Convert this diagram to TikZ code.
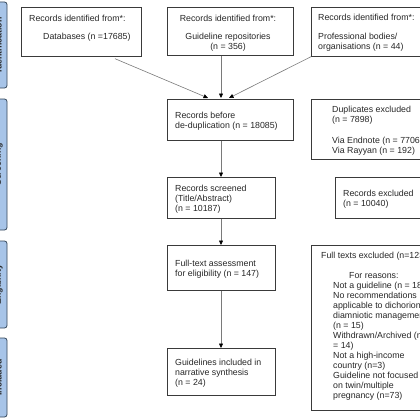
\documentclass[tikz,border=0pt]{standalone}
\usepackage{fontspec}
\setmainfont{Liberation Sans}
\usetikzlibrary{arrows.meta,calc}
\definecolor{boxline}{HTML}{3A3A3A}
\definecolor{arrline}{HTML}{7A7A7A}
\definecolor{sidefill}{HTML}{A7C4E8}
\definecolor{sideline}{HTML}{34465A}
\begin{document}
\begin{tikzpicture}[x=1pt,y=-1pt,
  box/.style={draw=boxline, line width=0.7pt, inner sep=0pt, anchor=north west},
  txt/.style={inner sep=0pt, anchor=north west, align=left, font=\fontsize{8.8}{10}\selectfont, text=black!85},
  ctxt/.style={txt, anchor=north, align=center},
  side/.style={draw=sideline, fill=sidefill, line width=0.8pt, rounded corners=2.5pt,
    rotate=90, anchor=center, minimum height=17pt, inner sep=0pt,
    font=\bfseries\fontsize{8.8}{10}\selectfont, text=black!85},
  arr/.style={draw=arrline, line width=0.6pt, -{Triangle[length=4.5pt,width=4pt,color=black]}}]
\useasboundingbox (0,0) rectangle (420,420);
\clip (0,0) rectangle (420,420);

% side phase boxes
\node[side, minimum width=86pt] (s1) at (-1.5,45) {Identification};
\node[side, minimum width=131pt] (s2) at (-1.5,164.5) {Screening};
\node[side, minimum width=87pt] (s3) at (-1.5,284.5) {Eligibility};
\node[side, minimum width=79pt] (s4) at (-1.5,377.5) {Included};

% identification boxes
\node[box, minimum width=120pt, minimum height=49pt] (db) at (21,7) {};
\node[txt] (dbt) at (29,14) {\strut Records identified from*:\\[8pt]\hspace{14pt}Databases (n =17685)};
\node[box, minimum width=126pt, minimum height=48pt] (guide) at (167,7) {};
\node[ctxt] (guidet) at (228,14) {\strut Records identified from*:\\[8pt]Guideline repositories\\(n = 356)};
\node[box, minimum width=120pt, minimum height=49pt] (prof) at (311,7) {};
\node[txt] (proft) at (318,13) {\strut Records identified from*:\\[9pt]Professional bodies/\\organisations (n = 44)};

% main flow
\node[box, minimum width=126pt, minimum height=41pt] (before) at (167,99) {};
\node[txt] (beforet) at (175,111) {\strut Records before\\de-duplication (n = 18085)};
\node[box, minimum width=108pt, minimum height=41pt] (screened) at (167,177) {};
\node[txt] (screenedt) at (175,184) {\strut Records screened\\(Title/Abstract)\\(n = 10187)};
\node[box, minimum width=108pt, minimum height=45pt] (full) at (167,245) {};
\node[txt] (fullt) at (175,259) {\strut Full-text assessment\\for eligibility (n = 147)};
\node[box, minimum width=108pt, minimum height=47pt] (incl) at (167,348) {};
\node[txt] (inclt) at (175,358) {\strut Guidelines included in\\narrative synthesis\\(n = 24)};

% exclusion boxes
\node[box, minimum width=120pt, minimum height=60pt] (dup) at (311,99) {};
\node[txt] (dupt) at (332,105) {\strut Duplicates excluded\\(n = 7898)\\[11pt]Via Endnote (n = 7706)\\Via Rayyan (n = 192)};
\node[box, minimum width=100pt, minimum height=41pt] (recex) at (335,177) {};
\node[txt] (recext) at (343,189) {\strut Records excluded\\(n = 10040)};
\node[box, minimum width=120pt, minimum height=165pt] (ftex) at (311,245) {};
\node[txt] (ftext) at (321,251) {\strut Full texts excluded (n=123)\\[10pt]
\hspace{28pt}For reasons:\\
\hspace{12pt}Not a guideline (n = 18)\\
\hspace{12pt}No recommendations\\
\hspace{12pt}applicable to dichorionic\\
\hspace{12pt}diamniotic management\\
\hspace{12pt}(n = 15)\\
\hspace{12pt}Withdrawn/Archived (n\\
\hspace{12pt}= 14)\\
\hspace{12pt}Not a high-income\\
\hspace{12pt}country (n=3)\\
\hspace{12pt}Guideline not focused\\
\hspace{12pt}on twin/multiple\\
\hspace{12pt}pregnancy (n=73)};

% connectors
\coordinate (vx) at (221,0);
\draw[arr] ($(db.south west)+(94,2)$) -- ($(before.north west)+(41,-1)$);
\draw[arr] (guide.south -| vx) -- ($(before.north west)+(54,-1)$);
\draw[arr] (prof.south west) -- ($(before.north west)+(62,-1)$);
\draw[arr] (before.south -| vx) -- (screened.north -| vx);
\draw[arr] (screened.south -| vx) -- (full.north -| vx);
\draw[arr] (full.south -| vx) -- (incl.north -| vx);
\end{tikzpicture}
\end{document}
